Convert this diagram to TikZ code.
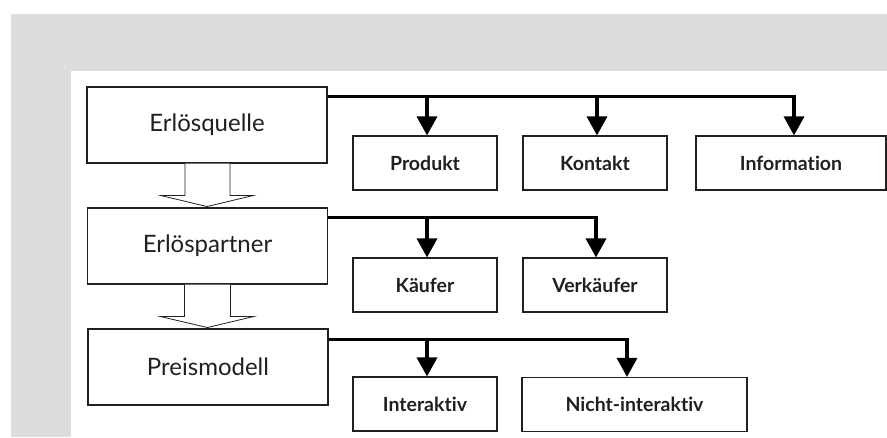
\documentclass[tikz,border=0pt]{standalone}
\usepackage{fontspec}
\setmainfont{Lato}[Ligatures=NoCommon]
\usetikzlibrary{arrows.meta}
\definecolor{bggrey}{HTML}{DCDDDF}
\definecolor{ink}{HTML}{231F20}
\begin{document}
\begin{tikzpicture}[x=1pt,y=-1pt,
  mainbox/.style={draw=ink,line width=1.1pt,minimum width=240pt,minimum height=76pt,inner sep=0pt,
    text=ink,font=\fontsize{24}{28}\selectfont},
  subbox/.style={draw=ink,line width=1.1pt,minimum width=144pt,minimum height=54pt,inner sep=0pt,
    text=ink,font=\fontsize{19.5}{23}\selectfont\bfseries},
  bar/.style={line width=3.4pt,black,line join=miter},
  arr/.style={bar,-{Triangle[length=19pt,width=20pt]}},
  hollow/.style={draw=ink,line width=0.8pt,fill=white,line join=miter}]
\useasboundingbox (0,0) rectangle (887,438);
\fill[bggrey] (11,14) rectangle (887,437);
\fill[white] (71,71) rectangle (887,438);
% main boxes
\node[mainbox] (Q) at (207,125) {Erlösquelle};
\node[mainbox] (P) at (207.5,246) {Erlöspartner};
\node[mainbox] (M) at (208,367) {Preismodell};
% sub boxes
\node[subbox] (prod) at (425,163) {Produkt};
\node[subbox] (kont) at (595,163) {Kontakt};
\node[subbox,minimum width=190pt] (info) at (791,163) {Information};
\node[subbox] (kauf) at (425,285) {Käufer};
\node[subbox] (verk) at (595,285) {Verkäufer};
\node[subbox] (inter) at (425,404) {Interaktiv};
\node[subbox,minimum width=225pt] (nicht) at (634.5,404.5) {Nicht-interaktiv};
% connectors row 1
\coordinate (q0) at ([yshift=-10pt]Q.north east);
\draw[arr] (q0) -| ([xshift=3pt]info.north);
\draw[arr] (q0 -| prod.north) ++(2,0) coordinate (q1) -- (q1 |- prod.north);
\draw[arr] (q0 -| kont.north) ++(2,0) coordinate (q2) -- (q2 |- kont.north);
% row 2
\coordinate (p0) at ([yshift=-10pt]P.north east);
\draw[arr] (p0) -| ([xshift=1pt]verk.north);
\draw[arr] (p0 -| kauf.north) ++(2,0) coordinate (p1) -- (p1 |- kauf.north);
% row 3
\coordinate (m0) at ([yshift=-11pt]M.north east);
\draw[arr] (m0) -| ([xshift=-7.5pt]nicht.north);
\draw[arr] (m0 -| inter.north) ++(2,0) coordinate (m1) -- (m1 |- inter.north);
% hollow arrows
\draw[hollow] ([xshift=-22pt]Q.south) -- ++(0,32) -- ++(-24,0) -- ([yshift=-43pt]Q.south)
  -- ([xshift=46pt,yshift=-32pt]Q.south) -- ++(-23,0) -- ([xshift=23pt]Q.south);
\draw[hollow] ([xshift=-23pt]P.south) -- ++(0,32) -- ++(-24,0) -- ([yshift=-43pt]P.south)
  -- ([xshift=46pt,yshift=-32pt]P.south) -- ++(-23,0) -- ([xshift=23pt]P.south);
\end{tikzpicture}
\end{document}
